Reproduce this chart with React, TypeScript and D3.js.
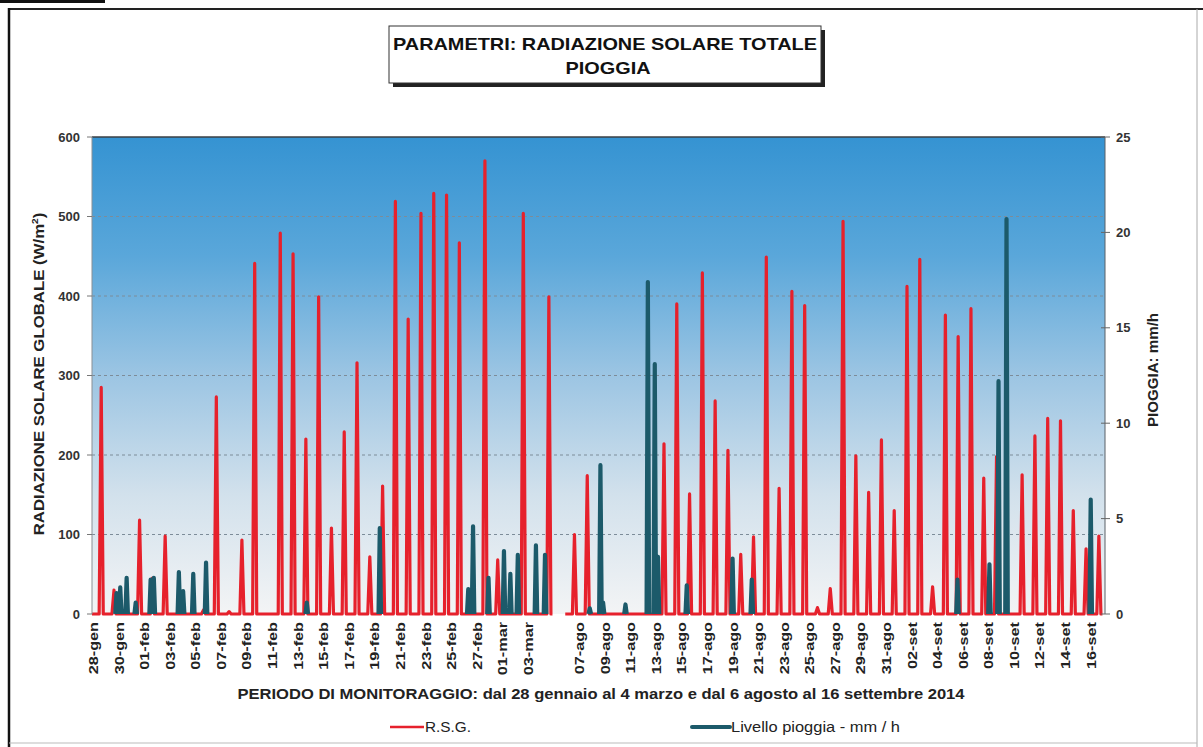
import React from 'react';
import * as d3 from 'd3';

// giorni del primo periodo (28 gennaio - 4 marzo 2014)
const daysWinter = [
  '28-gen', '29-gen', '30-gen', '31-gen',
  '01-feb', '02-feb', '03-feb', '04-feb', '05-feb', '06-feb', '07-feb', '08-feb', '09-feb', '10-feb',
  '11-feb', '12-feb', '13-feb', '14-feb', '15-feb', '16-feb', '17-feb', '18-feb', '19-feb', '20-feb',
  '21-feb', '22-feb', '23-feb', '24-feb', '25-feb', '26-feb', '27-feb', '28-feb',
  '01-mar', '02-mar', '03-mar', '04-mar',
];

// giorni del secondo periodo (6 agosto - 16 settembre 2014)
const daysSummer = [
  '06-ago', '07-ago', '08-ago', '09-ago', '10-ago', '11-ago', '12-ago', '13-ago', '14-ago', '15-ago',
  '16-ago', '17-ago', '18-ago', '19-ago', '20-ago', '21-ago', '22-ago', '23-ago', '24-ago', '25-ago',
  '26-ago', '27-ago', '28-ago', '29-ago', '30-ago', '31-ago',
  '01-set', '02-set', '03-set', '04-set', '05-set', '06-set', '07-set', '08-set', '09-set', '10-set',
  '11-set', '12-set', '13-set', '14-set', '15-set', '16-set',
];

// picco giornaliero R.S.G. (W/m2)
const rsgWinter = [
  285, 30, 0, 118, 45, 98, 0, 0, 5, 273, 3, 93, 441, 0, 479, 453, 220, 399, 108, 229,
  316, 72, 161, 519, 371, 504, 529, 527, 467, 0, 570, 68, 0, 504, 0, 399,
];
const rsgSummer = [
  100, 174, 0, 0, 0, 0, 0, 214, 390, 151, 429, 268, 206, 75, 97, 449, 158, 406, 388, 8,
  32, 494, 199, 153, 219, 130, 412, 446, 34, 376, 349, 384, 171, 198, 0, 175,
  224, 246, 243, 130, 82, 98,
];

// eventi di pioggia: [giorno, ora, mm/h]
const rainEvents: [string, number, number][] = [
  ['29-gen', 22, 1.1], ['30-gen', 5, 1.4], ['30-gen', 17, 1.9], ['31-gen', 10, 0.6],
  ['01-feb', 14, 1.8], ['01-feb', 20, 1.9], ['03-feb', 19, 2.2], ['04-feb', 3, 1.2],
  ['04-feb', 22, 2.1], ['05-feb', 22, 2.7], ['13-feb', 19, 0.6], ['19-feb', 12, 4.5],
  ['26-feb', 10, 1.3], ['26-feb', 19, 4.6], ['28-feb', 0, 1.9], ['01-mar', 5, 3.3],
  ['01-mar', 17, 2.1], ['02-mar', 7, 3.1], ['03-mar', 17, 3.6], ['04-mar', 10, 3.1],
  ['07-ago', 22, 0.3], ['08-ago', 18, 7.8], ['08-ago', 23, 0.6], ['10-ago', 17, 0.5],
  ['12-ago', 11, 17.4], ['13-ago', 0, 13.1], ['13-ago', 6, 3.0], ['15-ago', 12, 1.5],
  ['19-ago', 2, 2.9], ['20-ago', 14, 1.8], ['05-set', 16, 1.8], ['08-set', 4, 2.6],
  ['08-set', 21, 12.2], ['09-set', 12, 20.7], ['16-set', 2, 6.0],
];

const tickLabels = [
  '28-gen', '30-gen', '01-feb', '03-feb', '05-feb', '07-feb', '09-feb', '11-feb', '13-feb',
  '15-feb', '17-feb', '19-feb', '21-feb', '23-feb', '25-feb', '27-feb', '01-mar', '03-mar',
  '07-ago', '09-ago', '11-ago', '13-ago', '15-ago', '17-ago', '19-ago', '21-ago', '23-ago',
  '25-ago', '27-ago', '29-ago', '31-ago', '02-set', '04-set', '06-set', '08-set', '10-set',
  '12-set', '14-set', '16-set',
];

const leftTicks = [0, 100, 200, 300, 400, 500, 600];
const rightTicks = [0, 5, 10, 15, 20, 25];

const W = 1203;
const H = 747;
const plot = { left: 92, right: 1105, top: 137, bottom: 614 };
const GAP = 1;
// forma del picco giornaliero (frazioni di giorno)
const SUNRISE = 0.56;
const PEAK = 0.72;
const SUNSET = 0.88;
const RAIN_HALF = 0.1;
const RED = '#e6212c';
const TEAL = '#1c5a6a';
const FONT = '"Liberation Sans", Arial, Helvetica, sans-serif';

export default function App() {
  const allDays: (string | null)[] = [...daysWinter, ...Array(GAP).fill(null), ...daysSummer];
  const dayIndex = new Map<string, number>();
  allDays.forEach((d, i) => { if (d) dayIndex.set(d, i); });

  const x = d3.scaleLinear().domain([0, allDays.length + 0.2]).range([plot.left, plot.right]);
  const yL = d3.scaleLinear().domain([0, 600]).range([plot.bottom, plot.top]);
  const yR = d3.scaleLinear().domain([0, 25]).range([plot.bottom, plot.top]);

  const lineL = d3.line<[number, number]>().x(d => x(d[0])).y(d => yL(d[1]));
  const lineR = d3.line<[number, number]>().x(d => x(d[0])).y(d => yR(d[1]));

  const sunPoints = (days: string[], values: number[]) => {
    const pts: [number, number][] = [[dayIndex.get(days[0])!, 0]];
    days.forEach((d, k) => {
      const i = dayIndex.get(d)!;
      if (values[k] > 0) pts.push([i + SUNRISE, 0], [i + PEAK, values[k]], [i + SUNSET, 0]);
    });
    pts.push([dayIndex.get(days[days.length - 1])! + 1, 0]);
    return pts;
  };

  const rainPath = rainEvents
    .map(([d, h, v]) => {
      const t = dayIndex.get(d)! + h / 24;
      return lineR([[t - RAIN_HALF, 0], [t, v], [t + RAIN_HALF, 0]]);
    })
    .join(' ');

  const gridVals = leftTicks.filter(v => v > 0 && v < 600);

  return (
    <svg width={W} height={H} style={{ position: 'fixed', left: 0, top: 0, background: '#fff' }}
      fontFamily={FONT}>
      <defs>
        <linearGradient id="bg" x1="0" y1="0" x2="0" y2="1">
          <stop offset="0" stopColor="#3593d2" />
          <stop offset="0.25" stopColor="#5aa7da" />
          <stop offset="0.5" stopColor="#9cc5e3" />
          <stop offset="0.75" stopColor="#d2e1ec" />
          <stop offset="1" stopColor="#f3f4f5" />
        </linearGradient>
      </defs>

      {/* cornice */}
      <rect x={0} y={0} width={105} height={3} fill="#111" />
      <line x1={8} x2={W} y1={9} y2={9} stroke="#222" strokeWidth={2} />
      <line x1={9} x2={9} y1={8} y2={H} stroke="#111" strokeWidth={2.5} />
      <line x1={1197} x2={1197} y1={9} y2={H} stroke="#aaa" strokeWidth={1} />
      <line x1={9} x2={1197} y1={743} y2={743} stroke="#bbb" strokeWidth={1} />

      {/* titolo */}
      <rect x={393} y={30} width={432} height={57} fill="#222" />
      <rect x={389} y={26} width={432} height={57} fill="#fff" stroke="#333" strokeWidth={1} />
      <text x={605} y={50} textAnchor="middle" fontWeight="bold" fontSize={17}
        textLength={424} lengthAdjust="spacingAndGlyphs" fill="#111">
        PARAMETRI: RADIAZIONE SOLARE TOTALE
      </text>
      <text x={608} y={74} textAnchor="middle" fontWeight="bold" fontSize={17}
        textLength={85} lengthAdjust="spacingAndGlyphs" fill="#111">
        PIOGGIA
      </text>

      {/* area del grafico */}
      <rect x={plot.left} y={plot.top} width={plot.right - plot.left} height={plot.bottom - plot.top}
        fill="url(#bg)" />
      {gridVals.map(v => (
        <line key={v} x1={plot.left} x2={plot.right} y1={yL(v)} y2={yL(v)}
          stroke="#7d8c99" strokeWidth={1} strokeDasharray="3,3" />
      ))}

      {/* serie */}
      <path d={lineL(sunPoints(daysWinter, rsgWinter)) ?? ''} fill="none" stroke={RED} strokeWidth={3.2}
        strokeLinejoin="round" />
      <path d={lineL(sunPoints(daysSummer, rsgSummer)) ?? ''} fill="none" stroke={RED} strokeWidth={3.2}
        strokeLinejoin="round" />
      <path d={rainPath} fill="none" stroke={TEAL} strokeWidth={4.2} strokeLinejoin="round" />

      {/* assi */}
      <line x1={plot.left} x2={plot.right} y1={plot.top} y2={plot.top} stroke="#3a3f44" strokeWidth={1.5} />
      <line x1={plot.left} x2={plot.left} y1={plot.top} y2={plot.bottom} stroke="#8a8f94" strokeWidth={1} />
      <line x1={plot.right} x2={plot.right} y1={plot.top} y2={plot.bottom} stroke="#5a6066" strokeWidth={1} />

      {leftTicks.map(v => (
        <g key={v}>
          <line x1={plot.left - 5} x2={plot.left} y1={yL(v)} y2={yL(v)} stroke="#777" />
          <text x={80} y={yL(v)} dy="0.36em" textAnchor="end" fontSize={13} fontWeight="bold" fill="#333">{v}</text>
        </g>
      ))}
      {rightTicks.map(v => (
        <g key={v}>
          <line x1={plot.right - 4} x2={plot.right + 5} y1={yR(v)} y2={yR(v)} stroke="#666" />
          <text x={1116} y={yR(v)} dy="0.36em" fontSize={13} fontWeight="bold" fill="#333">{v}</text>
        </g>
      ))}

      {tickLabels.map(lbl => (
        <text key={lbl} transform={`translate(${x(dayIndex.get(lbl)!) + 6},${plot.bottom + 8}) rotate(-90) scale(1.3,1)`}
          textAnchor="end" fontSize={12.5} fontWeight="bold" fill="#222">{lbl}</text>
      ))}

      {/* titoli assi */}
      <text transform={`translate(44,374) rotate(-90) scale(1.12,1)`} textAnchor="middle" fontSize={15}
        fontWeight="bold" fill="#222">
        RADIAZIONE SOLARE GLOBALE (W/m<tspan dy={-6} fontSize={9}>2</tspan><tspan dy={6}>)</tspan>
      </text>
      <text transform={`translate(1158,370) rotate(-90) scale(1.08,1)`} textAnchor="middle" fontSize={14}
        fontWeight="bold" fill="#222">
        PIOGGIA: mm/h
      </text>
      <text x={601} y={699} textAnchor="middle" fontSize={15} fontWeight="bold" fill="#222"
        textLength={727} lengthAdjust="spacingAndGlyphs">
        PERIODO DI MONITORAGGIO: dal 28 gennaio al 4 marzo e dal 6 agosto al 16 settembre 2014
      </text>

      {/* legenda */}
      <line x1={390} x2={424} y1={727} y2={727} stroke={RED} strokeWidth={2.5} />
      <text x={425} y={732} fontSize={14} fill="#222" textLength={46} lengthAdjust="spacingAndGlyphs">R.S.G.</text>
      <line x1={692} x2={730} y1={727} y2={727} stroke={TEAL} strokeWidth={4} strokeLinecap="round" />
      <text x={731} y={732} fontSize={14} fill="#222" textLength={169} lengthAdjust="spacingAndGlyphs">
        Livello pioggia - mm / h
      </text>
    </svg>
  );
}
